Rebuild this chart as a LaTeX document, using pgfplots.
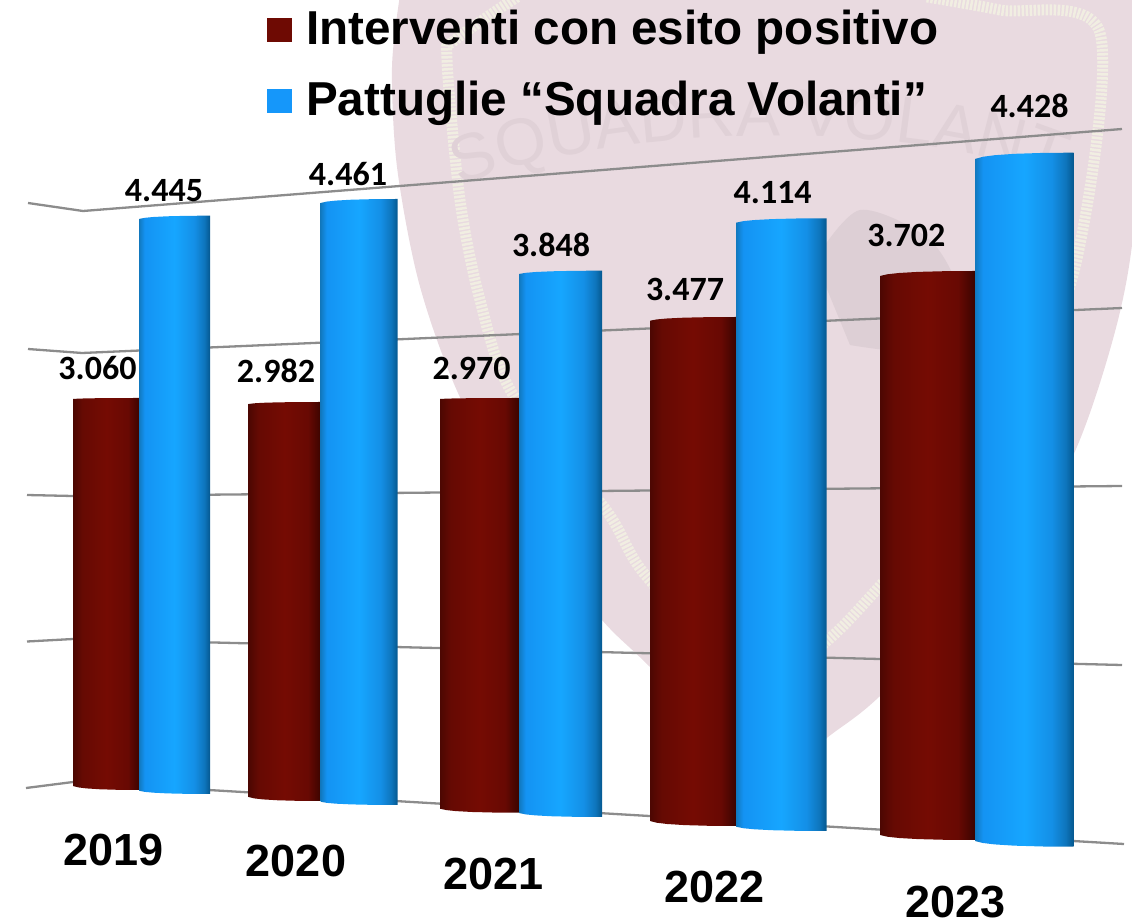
\documentclass[border=0pt]{standalone}
\usepackage{fontspec}
\setmainfont{Liberation Sans}
\newfontfamily\lab{Carlito}
\usepackage{pgfplots}
\pgfplotsset{compat=1.18}
\usetikzlibrary{decorations.text}

\definecolor{gridc}{HTML}{8C8C8C}
\definecolor{shieldc}{HTML}{E9DAE0}
\definecolor{stripec}{HTML}{F1EEE2}
\definecolor{redbar}{HTML}{6E0A03}
\definecolor{bluebar}{HTML}{1597FA}
\definecolor{ra}{HTML}{4C0702}
\definecolor{rb}{HTML}{660A03}
\definecolor{rc}{HTML}{750B03}
\definecolor{rd}{HTML}{680903}
\definecolor{re}{HTML}{3A0400}
\definecolor{ba}{HTML}{1178BE}
\definecolor{bb}{HTML}{1493F3}
\definecolor{bc}{HTML}{16A6FF}
\definecolor{bd}{HTML}{148FE6}
\definecolor{be}{HTML}{0E75BC}
\definecolor{bf}{HTML}{05588F}

\pgfdeclarehorizontalshading{redcyl}{100bp}{
  color(0bp)=(ra); color(25bp)=(ra); color(32bp)=(rb); color(50bp)=(rc);
  color(66bp)=(rd); color(75bp)=(re); color(100bp)=(re)}
\pgfdeclarehorizontalshading{bluecyl}{100bp}{
  color(0bp)=(ba); color(25bp)=(ba); color(29bp)=(bb); color(50bp)=(bc);
  color(64bp)=(bd); color(71bp)=(be); color(75bp)=(bf); color(100bp)=(bf)}

% one cylinder: xl, xr, top-left, top-right, bottom-left, bottom-right (image pixels), value, shading
\newcommand{\cyl}[8]{%
  \pgfmathsetmacro\uu{#7/(#6-#4)}%
  \gdef\pts{}%
  \foreach \f/\g in {0/0,.08/.35,.2/.6,.4/.82,.7/.97,1/1}{%
    \pgfmathsetmacro\yy{(#6-(#3+(#4-#3)*\g))*\uu}%
    \xdef\pts{\pts(\f,\yy)}}%
  \foreach \f/\g in {1/1,.7/.97,.4/.82,.2/.6,.08/.35,0/0}{%
    \pgfmathsetmacro\yy{(#6-(#5+(#6-#5)*\g))*\uu}%
    \xdef\pts{\pts(\f,\yy)}}%
  \pgfmathsetmacro\bw{#2-#1}\pgfmathsetmacro\bh{#6-#4}\pgfmathsetmacro\by{923-#6}%
  \begin{axis}[at={(#1pt,\by pt)},anchor=south west,scale only axis,
    width=\bw pt,height=\bh pt,hide axis,clip=false,
    xmin=0,xmax=1,ymin=0,ymax=#7]
    \edef\doplot{\noexpand\addplot[draw=none,shading=#8] coordinates {\pts} --cycle;}
    \doplot
  \end{axis}}

\begin{document}
\begin{tikzpicture}
\useasboundingbox (0pt,0pt) rectangle (1132pt,923pt);
\begin{axis}[at={(0pt,0pt)},anchor=south west,scale only axis,width=1132pt,height=923pt,
  hide axis,xmin=0,xmax=1132,ymin=0,ymax=923,y dir=reverse,
  legend style={draw=none,fill=none,inner sep=0pt,at={(axis cs:267,8)},anchor=north west,
    font=\fontsize{47.6}{50}\selectfont\bfseries,row sep=31pt,
    /tikz/every odd column/.style={column sep=12pt}},
  legend cell align=left,
  legend image code/.code={\fill[#1,draw=none] (0pt,-14pt) rectangle (25pt,10pt);}]

  % faded shield behind the chart
  \addplot[forget plot,draw=none,fill=shieldc,smooth,tension=.5] coordinates {
    (400,-5) (392,67) (397,167) (419,283) (458,393) (530,530) (602,620) (650,667) (767,785)
    (828,737) (879,697) (990,585) (1071,460) (1118,320) (1136,200) (1136,-5)} --cycle;
  \addplot[forget plot,draw=stripec,line width=11pt,dash pattern=on 2.5pt off 1.5pt,smooth] coordinates {
    (517,-3) (455,40) (447,60) (460,200) (480,300) (512,393) (606,510) (647,577) (760,690)
    (828,640) (879,587) (1000,450) (1075,267) (1100,33) (1000,10) (927,-3)};
  \addplot[forget plot,draw=none,fill=black!5!shieldc,smooth] coordinates {
    (815,260) (860,210) (930,240) (960,300) (930,350) (850,345)} --cycle;
  \path[decorate,decoration={text along path,raise=0pt,text align=center,
      text={|\fontsize{66}{70}\selectfont\color{black!4!shieldc}|SQUADRA VOLANTI}}]
    (axis cs:490,175) .. controls (axis cs:640,125) and (axis cs:900,120) .. (axis cs:1045,175);

  % depth lines of the 3D floor and wall
  \addplot[forget plot,gridc,line width=2.3pt] coordinates {(28,203) (83,211) (1122,129)};
  \addplot[forget plot,gridc,line width=2.3pt] coordinates {(28,349) (82,353) (1122,308)};
  \addplot[forget plot,gridc,line width=2.3pt] coordinates {(27,495) (73,496) (1122,486)};
  \addplot[forget plot,gridc,line width=2.3pt] coordinates {(27,641.5) (73,639) (1122,665)};
  \addplot[forget plot,gridc,line width=2.3pt] coordinates {(26,788) (73,782) (1124,844)};

  \addlegendimage{fill=redbar}
  \addlegendentry{Interventi con esito positivo}
  \addlegendimage{fill=bluebar}
  \addlegendentry{Pattuglie “Squadra Volanti”}

  % year labels
  \tikzset{yr/.style={anchor=base,font=\fontsize{45}{50}\selectfont\bfseries},
           val/.style={anchor=base,font=\lab\fontsize{34}{38}\selectfont\bfseries}}
  \node[yr] at (axis cs:113.5,865) {2019};
  \node[yr] at (axis cs:296,876) {2020};
  \node[yr] at (axis cs:493.5,889) {2021};
  \node[yr] at (axis cs:714.5,902) {2022};
  \node[yr] at (axis cs:955.5,917) {2023};

  % value labels
  \node[val] at (axis cs:97.5,379) {3.060};
  \node[val] at (axis cs:276,382.7) {2.982};
  \node[val] at (axis cs:471.6,379) {2.970};
  \node[val] at (axis cs:685,300) {3.477};
  \node[val] at (axis cs:906.4,246.7) {3.702};
  \node[val] at (axis cs:164,201) {4.445};
  \node[val] at (axis cs:348,185) {4.461};
  \node[val] at (axis cs:551,256) {3.848};
  \node[val] at (axis cs:772.7,203) {4.114};
  \node[val] at (axis cs:1029.5,118) {4.428};
\end{axis}

% Interventi con esito positivo
\cyl{73}{140}{399}{398}{786}{790}{3060}{redcyl}
\cyl{248.5}{321}{404}{402}{797}{801}{2982}{redcyl}
\cyl{440}{519}{399}{398}{808.7}{812.7}{2970}{redcyl}
\cyl{650}{736}{320.7}{317}{821}{826}{3477}{redcyl}
\cyl{880}{975}{276}{271}{835}{840}{3702}{redcyl}
% Pattuglie "Squadra Volanti"
\cyl{139}{210}{219}{215.7}{790.7}{794}{4445}{bluecyl}
\cyl{320.5}{397.5}{203}{199}{801.7}{805}{4461}{bluecyl}
\cyl{519}{602}{274}{270.7}{813}{817}{3848}{bluecyl}
\cyl{736}{826.5}{222.7}{218.3}{826.7}{831}{4114}{bluecyl}
\cyl{975}{1073.5}{159}{152.7}{841}{846.7}{4428}{bluecyl}
\end{tikzpicture}
\end{document}
